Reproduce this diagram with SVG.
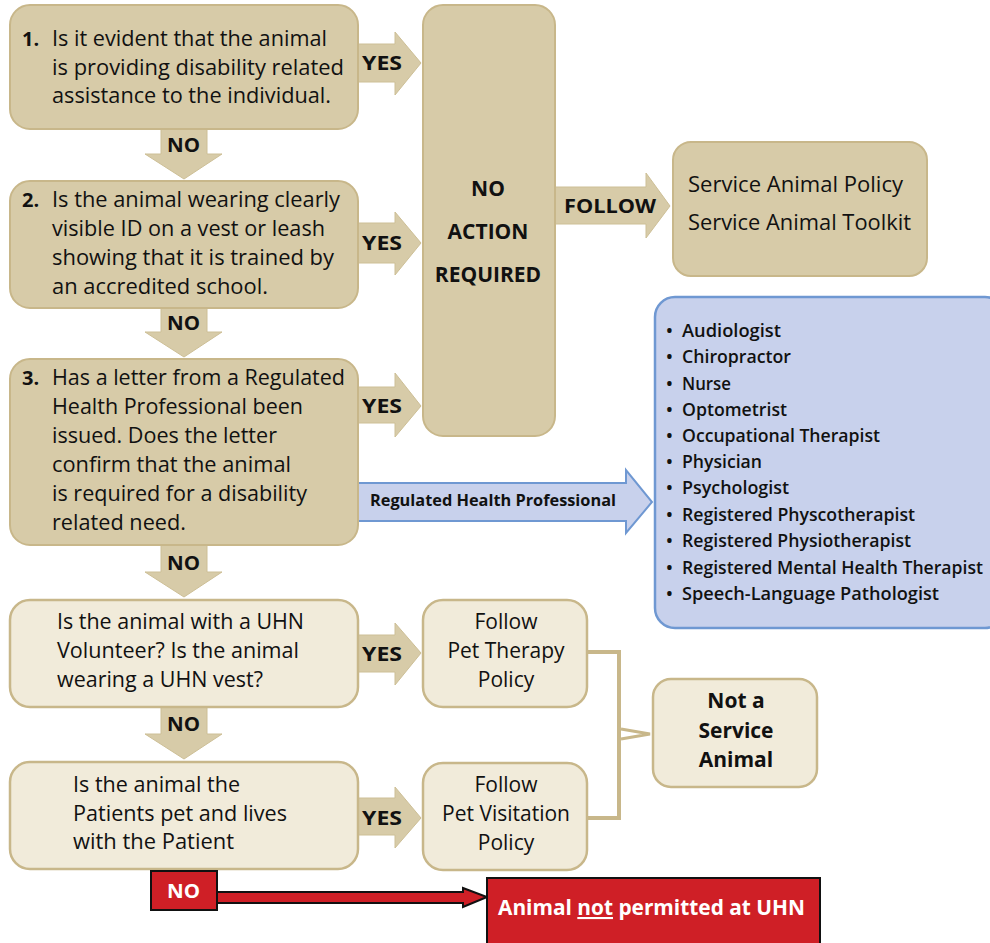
<svg xmlns="http://www.w3.org/2000/svg" width="990" height="943" viewBox="0 0 990 943">
<style>
.tan{fill:#d7cba8;stroke:#c8b78a;stroke-width:2}
.lt{fill:#f1ebda;stroke:#c8b78a;stroke-width:2.5}
.arr{fill:#d7cba8;stroke:#cdbf96;stroke-width:1}
.blue{fill:#c8d1ec;stroke:#6f98d2;stroke-width:2.5}
.t{font-family:"Open Sans","Liberation Sans",sans-serif;font-size:21px;fill:#111}
.b{font-family:"Open Sans","Liberation Sans",sans-serif;font-weight:700;fill:#111}
.lab{font-size:20px}
.big{font-size:21px}
.li{font-family:"Open Sans","Liberation Sans",sans-serif;font-weight:600;font-size:18px;fill:#111}
.c{text-anchor:middle}
.w{fill:#fff}
</style>
<g id="connectors">
<polygon class="arr" points="358,44 395,44 395,32 421,63 395,95 395,82 358,82"/>
<polygon class="arr" points="358,223 395,223 395,212 421,243 395,275 395,263 358,263"/>
<polygon class="arr" points="358,387 395,387 395,373 421,406 395,437 395,423 358,423"/>
<polygon class="arr" points="358,635 395,635 395,623 421,653 395,685 395,672 358,672"/>
<polygon class="arr" points="358,798 395,798 395,787 421,818 395,848 395,835 358,835"/>
<polygon class="arr" points="161,129 207,129 207,154 222,154 184,179 145,154 161,154"/>
<polygon class="arr" points="161,308 207,308 207,332 222,332 184,357 145,332 161,332"/>
<polygon class="arr" points="161,545 207,545 207,572 222,572 184,597 145,572 161,572"/>
<polygon class="arr" points="161,707 207,707 207,734 222,734 184,759 145,734 161,734"/>
<polygon class="arr" points="555,187 646,187 646,173 670,206 646,238 646,224 555,224"/>
<polygon fill="#c8d1ec" stroke="#6f98d2" stroke-width="2" points="357,483 626,483 626,470 652,502 626,533 626,521 357,521"/>
<path d="M587,652 H619 V818 H587" fill="none" stroke="#c8b78a" stroke-width="4"/>
<path d="M621,729 L650,734 L621,739" fill="none" stroke="#c8b78a" stroke-width="3"/>
<polygon fill="#cf1f26" stroke="#111" stroke-width="2" points="216,892 463,892 463,888 487,897 463,907 463,903 216,903"/>
<text class="b lab" x="362" y="70" textLength="40" lengthAdjust="spacingAndGlyphs">YES</text>
<text class="b lab" x="362" y="250" textLength="40" lengthAdjust="spacingAndGlyphs">YES</text>
<text class="b lab" x="362" y="413" textLength="40" lengthAdjust="spacingAndGlyphs">YES</text>
<text class="b lab" x="362" y="661" textLength="40" lengthAdjust="spacingAndGlyphs">YES</text>
<text class="b lab" x="362" y="825" textLength="40" lengthAdjust="spacingAndGlyphs">YES</text>
<text class="b lab" x="167" y="152" textLength="33" lengthAdjust="spacingAndGlyphs">NO</text>
<text class="b lab" x="167" y="330" textLength="33" lengthAdjust="spacingAndGlyphs">NO</text>
<text class="b lab" x="167" y="570" textLength="33" lengthAdjust="spacingAndGlyphs">NO</text>
<text class="b lab" x="167" y="731" textLength="33" lengthAdjust="spacingAndGlyphs">NO</text>
<text class="b lab" x="564" y="213" textLength="92" lengthAdjust="spacingAndGlyphs">FOLLOW</text>
<text class="b" font-size="16" x="370" y="506" textLength="246" lengthAdjust="spacingAndGlyphs">Regulated Health Professional</text>
</g>
<g id="q1">
<rect class="tan" x="10" y="5" width="348" height="124" rx="20"/>
<text class="b" font-size="20" x="22" y="46">1.</text>
<text class="t" x="52" y="46" textLength="275" lengthAdjust="spacingAndGlyphs">Is it evident that the animal</text>
<text class="t" x="52" y="75" textLength="292" lengthAdjust="spacingAndGlyphs">is providing disability related</text>
<text class="t" x="52" y="103" textLength="279" lengthAdjust="spacingAndGlyphs">assistance to the individual.</text>
</g>
<g id="q2">
<rect class="tan" x="10" y="181" width="348" height="127" rx="20"/>
<text class="b" font-size="20" x="22" y="207">2.</text>
<text class="t" x="52" y="207" textLength="288" lengthAdjust="spacingAndGlyphs">Is the animal wearing clearly</text>
<text class="t" x="52" y="236" textLength="273" lengthAdjust="spacingAndGlyphs">visible ID on a vest or leash</text>
<text class="t" x="52" y="265" textLength="282" lengthAdjust="spacingAndGlyphs">showing that it is trained by</text>
<text class="t" x="52" y="294" textLength="216" lengthAdjust="spacingAndGlyphs">an accredited school.</text>
</g>
<g id="q3">
<rect class="tan" x="10" y="359" width="348" height="186" rx="20"/>
<text class="b" font-size="20" x="22" y="385">3.</text>
<text class="t" x="52" y="385" textLength="293" lengthAdjust="spacingAndGlyphs">Has a letter from a Regulated</text>
<text class="t" x="52" y="414" textLength="251" lengthAdjust="spacingAndGlyphs">Health Professional been</text>
<text class="t" x="52" y="443" textLength="225" lengthAdjust="spacingAndGlyphs">issued. Does the letter</text>
<text class="t" x="52" y="472" textLength="239" lengthAdjust="spacingAndGlyphs">confirm that the animal</text>
<text class="t" x="52" y="501" textLength="255" lengthAdjust="spacingAndGlyphs">is required for a disability</text>
<text class="t" x="52" y="530" textLength="134" lengthAdjust="spacingAndGlyphs">related need.</text>
</g>
<g id="no-action">
<rect class="tan" x="423" y="5" width="132" height="431" rx="20"/>
<text class="b big c" x="488" y="196">NO</text>
<text class="b big c" x="488" y="239">ACTION</text>
<text class="b big c" x="488" y="282">REQUIRED</text>
</g>
<g id="service-policy">
<rect class="tan" x="673" y="142" width="254" height="134" rx="18"/>
<text class="t" x="688" y="192" textLength="215" lengthAdjust="spacingAndGlyphs">Service Animal Policy</text>
<text class="t" x="688" y="230" textLength="223" lengthAdjust="spacingAndGlyphs">Service Animal Toolkit</text>
</g>
<g id="rhp-list">
<rect class="blue" x="655" y="297" width="350" height="331" rx="20"/>
<g class="li">
<text x="666" y="337">•</text><text x="682" y="337" textLength="99" lengthAdjust="spacingAndGlyphs">Audiologist</text>
<text x="666" y="363">•</text><text x="682" y="363" textLength="109" lengthAdjust="spacingAndGlyphs">Chiropractor</text>
<text x="666" y="390">•</text><text x="682" y="390" textLength="49" lengthAdjust="spacingAndGlyphs">Nurse</text>
<text x="666" y="416">•</text><text x="682" y="416" textLength="105" lengthAdjust="spacingAndGlyphs">Optometrist</text>
<text x="666" y="442">•</text><text x="682" y="442" textLength="198" lengthAdjust="spacingAndGlyphs">Occupational Therapist</text>
<text x="666" y="468">•</text><text x="682" y="468" textLength="80" lengthAdjust="spacingAndGlyphs">Physician</text>
<text x="666" y="494">•</text><text x="682" y="494" textLength="107" lengthAdjust="spacingAndGlyphs">Psychologist</text>
<text x="666" y="521">•</text><text x="682" y="521" textLength="233" lengthAdjust="spacingAndGlyphs">Registered Physcotherapist</text>
<text x="666" y="547">•</text><text x="682" y="547" textLength="229" lengthAdjust="spacingAndGlyphs">Registered Physiotherapist</text>
<text x="666" y="574">•</text><text x="682" y="574" textLength="301" lengthAdjust="spacingAndGlyphs">Registered Mental Health Therapist</text>
<text x="666" y="600">•</text><text x="682" y="600" textLength="257" lengthAdjust="spacingAndGlyphs">Speech-Language Pathologist</text>
</g>
</g>
<g id="q4">
<rect class="lt" x="10" y="600" width="348" height="107" rx="20"/>
<text class="t" x="57" y="629" textLength="247" lengthAdjust="spacingAndGlyphs">Is the animal with a UHN</text>
<text class="t" x="57" y="658" textLength="242" lengthAdjust="spacingAndGlyphs">Volunteer? Is the animal</text>
<text class="t" x="57" y="687" textLength="206" lengthAdjust="spacingAndGlyphs">wearing a UHN vest?</text>
</g>
<g id="q5">
<rect class="lt" x="10" y="762" width="348" height="107" rx="20"/>
<text class="t" x="73" y="792" textLength="167" lengthAdjust="spacingAndGlyphs">Is the animal the</text>
<text class="t" x="73" y="821" textLength="214" lengthAdjust="spacingAndGlyphs">Patients pet and lives</text>
<text class="t" x="73" y="849" textLength="161" lengthAdjust="spacingAndGlyphs">with the Patient</text>
</g>
<g id="pet-therapy">
<rect class="lt" x="423" y="600" width="164" height="107" rx="20"/>
<text class="t c" x="506" y="629">Follow</text>
<text class="t c" x="506" y="658">Pet Therapy</text>
<text class="t c" x="506" y="687">Policy</text>
</g>
<g id="pet-visitation">
<rect class="lt" x="423" y="763" width="164" height="107" rx="20"/>
<text class="t c" x="506" y="792">Follow</text>
<text class="t c" x="506" y="821">Pet Visitation</text>
<text class="t c" x="506" y="850">Policy</text>
</g>
<g id="not-service">
<rect class="lt" x="653" y="679" width="164" height="108" rx="18"/>
<text class="b big c" x="736" y="708">Not a</text>
<text class="b big c" x="736" y="738">Service</text>
<text class="b big c" x="736" y="767">Animal</text>
</g>
<g id="no-red">
<rect x="151" y="871" width="66" height="39" fill="#cf1f26" stroke="#111" stroke-width="2"/>
<text class="b lab w" x="167" y="898" textLength="33" lengthAdjust="spacingAndGlyphs">NO</text>
</g>
<g id="not-permitted">
<rect x="487" y="878" width="333" height="70" fill="#cf1f26" stroke="#111" stroke-width="2"/>
<text class="b big w" x="498" y="915" textLength="307" lengthAdjust="spacingAndGlyphs">Animal <tspan text-decoration="underline">not</tspan> permitted at UHN</text>
</g>
</svg>
